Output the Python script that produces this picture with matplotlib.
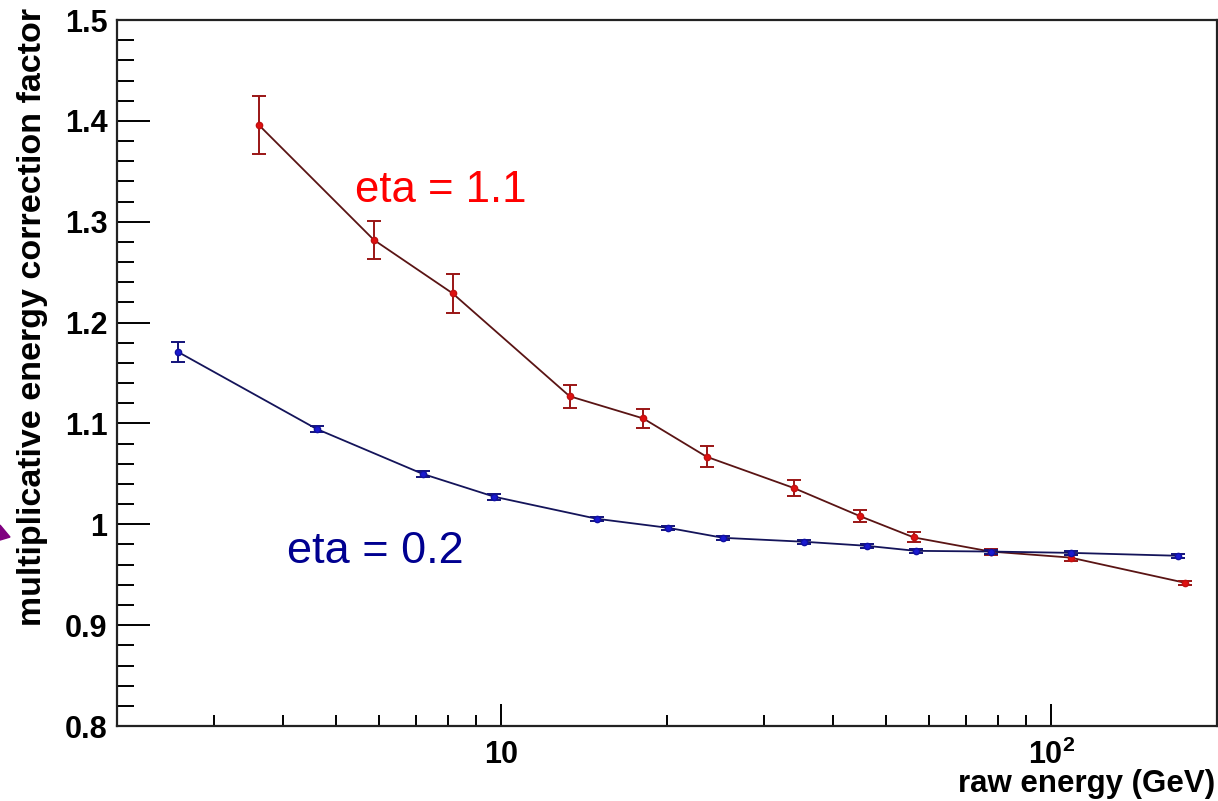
import matplotlib
matplotlib.use("Agg")
import matplotlib.pyplot as plt
from matplotlib.ticker import FixedLocator, MultipleLocator, FixedFormatter, NullFormatter
from matplotlib.patches import Polygon

plt.rcParams['font.family'] = ['Liberation Sans', 'DejaVu Sans']
plt.rcParams['mathtext.fontset'] = 'custom'
plt.rcParams['mathtext.rm'] = 'Liberation Sans'
plt.rcParams['mathtext.bf'] = 'Liberation Sans:bold'

# eta = 1.1 (red)
e_red = [3.62, 5.86, 8.15, 13.3, 18.1, 23.6, 34.0, 44.9, 56.2, 77.5, 108.3, 175.0]
f_red = [1.396, 1.282, 1.229, 1.127, 1.105, 1.067, 1.036, 1.008, 0.987, 0.973, 0.967, 0.942]
err_red = [0.029, 0.019, 0.019, 0.0114, 0.0094, 0.0104, 0.008, 0.006, 0.005, 0.003, 0.003, 0.002]

# eta = 0.2 (blue)
e_blue = [2.58, 4.61, 7.19, 9.71, 14.9, 20.1, 25.3, 35.5, 46.1, 56.6, 77.5, 108.3, 170.0]
f_blue = [1.171, 1.0946, 1.050, 1.0273, 1.0055, 0.9965, 0.9866, 0.9827, 0.9787, 0.9737, 0.973, 0.9717, 0.9688]
err_blue = [0.010, 0.003, 0.003, 0.003, 0.002, 0.002, 0.002, 0.002, 0.002, 0.002, 0.002, 0.002, 0.002]

y_major = [0.8, 0.9, 1.0, 1.1, 1.2, 1.3, 1.4, 1.5]
y_labels = ['0.8', '0.9', '1', '1.1', '1.2', '1.3', '1.4', '1.5']
x_major = [10, 100]
x_labels = ['10', r'$\mathbf{10^{2}}$']

fig = plt.figure(figsize=(12.18, 8.01), dpi=100)
ax = fig.add_axes([0.0961, 0.0936, 0.9031, 0.8814])

ax.errorbar(e_red, f_red, yerr=err_red, fmt='o', ms=4.5, mfc='#e01010', mec='#c01010',
            ecolor='#9a1515', elinewidth=1.4, capsize=5, capthick=1.4, zorder=3)
ax.plot(e_red, f_red, color='#5a1414', lw=1.3, zorder=2)

ax.errorbar(e_blue, f_blue, yerr=err_blue, fmt='o', ms=4.5, mfc='#1a1ad0', mec='#1010a0',
            ecolor='#12127a', elinewidth=1.4, capsize=5, capthick=1.4, zorder=3)
ax.plot(e_blue, f_blue, color='#14145a', lw=1.3, zorder=2)

ax.set_xscale('log')
ax.set_xlim(2, 200)
ax.set_ylim(0.8, 1.5)

ax.xaxis.set_major_locator(FixedLocator(x_major))
ax.xaxis.set_major_formatter(FixedFormatter(x_labels))
ax.xaxis.set_minor_locator(FixedLocator([3, 4, 5, 6, 7, 8, 9, 20, 30, 40, 50, 60, 70, 80, 90]))
ax.xaxis.set_minor_formatter(NullFormatter())
ax.yaxis.set_major_locator(FixedLocator(y_major))
ax.yaxis.set_major_formatter(FixedFormatter(y_labels))
ax.yaxis.set_minor_locator(MultipleLocator(0.02))

ax.tick_params(axis='y', which='major', direction='in', length=24, width=1.4, pad=7,
               labelsize=22)
ax.tick_params(axis='y', which='minor', direction='in', length=12, width=1.4)
ax.tick_params(axis='x', which='major', direction='in', length=16, width=1.4, pad=10,
               labelsize=22)
ax.tick_params(axis='x', which='minor', direction='in', length=8, width=1.4)
for lab in ax.get_xticklabels() + ax.get_yticklabels():
    lab.set_fontweight('bold')

for s in ax.spines.values():
    s.set_linewidth(1.6)
    s.set_color('#222222')

ax.text(0.2164, 0.742, 'eta = 1.1', color='#ff0000', fontsize=31.5,
        transform=ax.transAxes, ha='left', va='baseline')
ax.text(0.1545, 0.231, 'eta = 0.2', color='#000090', fontsize=32.5,
        transform=ax.transAxes, ha='left', va='baseline')

fig.text(0.998, 0.002, 'raw energy (GeV)', fontsize=22.5, fontweight='bold',
         ha='right', va='bottom')
fig.text(0.027, 0.99, 'multiplicative energy correction factor', fontsize=24.5,
         fontweight='bold', rotation=90, ha='center', va='top')

# bit of a purple arrow at the left edge
fig.patches.append(Polygon([[0, 0.3445], [0.0082, 0.3295], [0, 0.3258]], closed=True,
                           color='#800080', transform=fig.transFigure, figure=fig))

fig.savefig('out.png', dpi=100)
